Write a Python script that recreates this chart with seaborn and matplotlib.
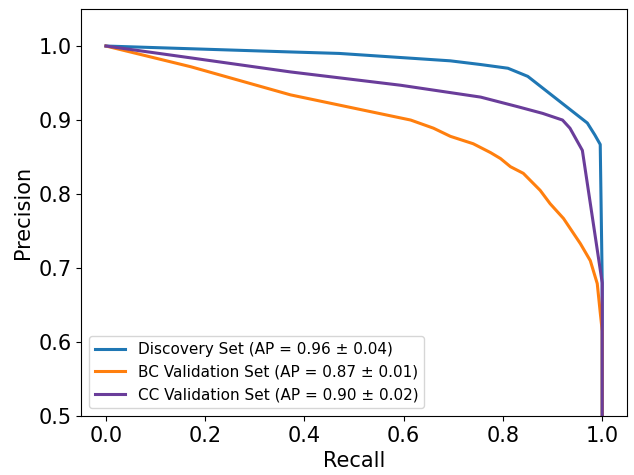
import matplotlib
matplotlib.use("Agg")
import matplotlib.pyplot as plt
import seaborn as sns
import pandas as pd

disc_recall = [0.0, 0.372, 0.47, 0.694, 0.755, 0.81, 0.85, 0.97, 0.985, 0.996, 1.0, 1.0]
disc_prec   = [1.0, 0.992, 0.99, 0.98, 0.975, 0.97, 0.959, 0.896, 0.88, 0.867, 0.68, 0.5]

bc_recall = [0.0, 0.171, 0.372, 0.614, 0.66, 0.694, 0.74, 0.775, 0.795, 0.815, 0.841,
             0.875, 0.895, 0.922, 0.942, 0.956, 0.976, 0.99, 0.996, 1.0, 1.0]
bc_prec   = [1.0, 0.972, 0.934, 0.9, 0.889, 0.878, 0.868, 0.856, 0.848, 0.837, 0.828,
             0.805, 0.787, 0.767, 0.747, 0.733, 0.71, 0.679, 0.64, 0.615, 0.5]

cc_recall = [0.0, 0.171, 0.372, 0.594, 0.755, 0.83, 0.88, 0.92, 0.935, 0.96, 1.0, 1.0]
cc_prec   = [1.0, 0.984, 0.965, 0.947, 0.931, 0.918, 0.909, 0.9, 0.889, 0.859, 0.68, 0.5]

labels = ["Discovery Set (AP = 0.96 ± 0.04)",
          "BC Validation Set (AP = 0.87 ± 0.01)",
          "CC Validation Set (AP = 0.90 ± 0.02)"]
colors = ["#1f77b4", "#ff7f0e", "#6a3d9a"]

frames = []
for lab, r, p in zip(labels, [disc_recall, bc_recall, cc_recall], [disc_prec, bc_prec, cc_prec]):
    frames.append(pd.DataFrame({"Recall": r, "Precision": p, "Set": lab}))
df = pd.concat(frames, ignore_index=True)

fig, ax = plt.subplots(figsize=(6.34, 4.75), dpi=100)
sns.lineplot(data=df, x="Recall", y="Precision", hue="Set", palette=dict(zip(labels, colors)),
             sort=False, estimator=None, linewidth=2.2, ax=ax)
ax.set_ylim(0.5, 1.05)
ax.set_xlim(-0.05, 1.05)
ax.set_xticks([0.0, 0.2, 0.4, 0.6, 0.8, 1.0])
ax.set_yticks([0.5, 0.6, 0.7, 0.8, 0.9, 1.0])
ax.tick_params(labelsize=15)
ax.set_xlabel("Recall", fontsize=15)
ax.set_ylabel("Precision", fontsize=15)
ax.legend(title=None, loc="lower left", fontsize=11)
fig.subplots_adjust(left=0.128, right=0.989, top=0.981, bottom=0.124)
fig.savefig("out.png", dpi=100)
